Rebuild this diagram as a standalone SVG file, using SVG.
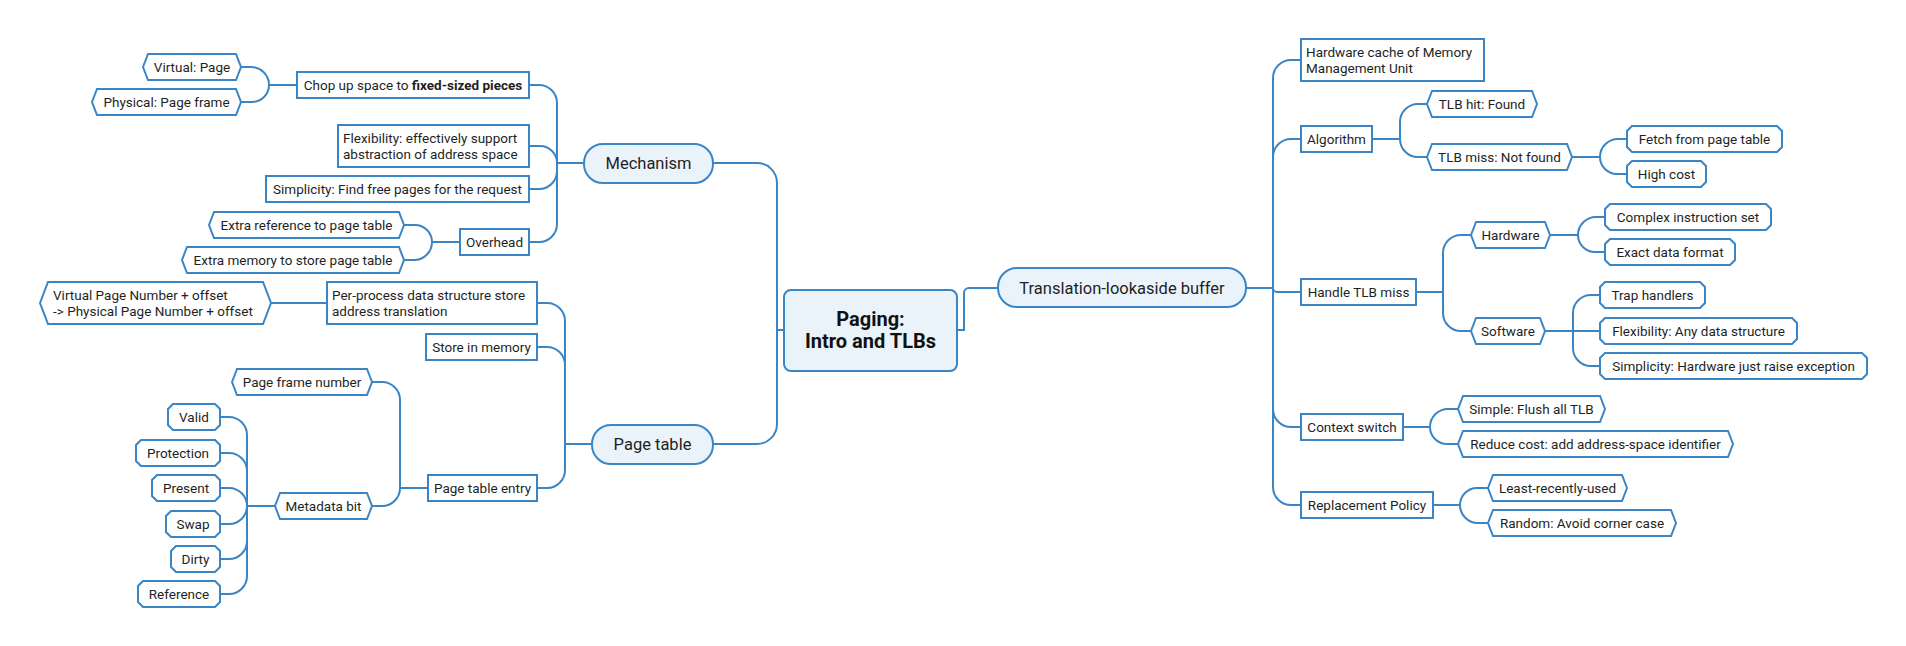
<svg xmlns="http://www.w3.org/2000/svg" width="1906" height="646" viewBox="0 0 1906 646">
<style>
.c{fill:none;stroke:#3A85C5;stroke-width:2}
.s{fill:#fff;stroke:#3A85C5;stroke-width:2}
.p{fill:#EBF3FA;stroke:#3A85C5;stroke-width:2}
text{font-family:Roboto,"Liberation Sans",sans-serif;font-size:13.5px;fill:#1f1f1f}
.m{text-anchor:middle}
.l1{font-size:16.5px}
.rt{font-size:20px;font-weight:bold;fill:#111}
</style>
<rect width="1906" height="646" fill="#fff"/>
<g id="connectors" class="c">
<path d="M784 330H777M713 163H757A20 20 0 0 1 777 183V330M713 444H757A20 20 0 0 0 777 424V330"/>
<path d="M957 330H964V293A5 5 0 0 1 969 288H998"/>
<path d="M557 163H584M529 85H539A18 18 0 0 1 557 103V163M529 146H540A17 17 0 0 1 557 163M529 189H539A18 18 0 0 0 557 171V163M529 242H539A18 18 0 0 0 557 224V163"/>
<path d="M269 85H297M241 67H251A18 18 0 0 1 269 85M241 102H252A17 17 0 0 0 269 85"/>
<path d="M432 242H460M404 225H415A17 17 0 0 1 432 242M404 260H414A18 18 0 0 0 432 242"/>
<path d="M565 444H592M537 303H547A18 18 0 0 1 565 321V444M537 347H547A18 18 0 0 1 565 365V444M537 488H547A18 18 0 0 0 565 470V444"/>
<path d="M271 303H327"/>
<path d="M400 488H428M372 382H382A18 18 0 0 1 400 400V488M372 506H382A18 18 0 0 0 400 488"/>
<path d="M247 506H275M220 417H229A18 18 0 0 1 247 435V506M220 453H229A18 18 0 0 1 247 471V506M220 488H229A18 18 0 0 1 247 506M220 524H229A18 18 0 0 0 247 506M220 559H229A18 18 0 0 0 247 541V506M220 594H229A18 18 0 0 0 247 576V506"/>
<path d="M1246 288H1273M1301 60H1291A18 18 0 0 0 1273 78V288M1301 139H1291A18 18 0 0 0 1273 157V288M1301 292H1277A4 4 0 0 1 1273 288M1301 427H1291A18 18 0 0 1 1273 409V288M1301 505H1291A18 18 0 0 1 1273 487V288"/>
<path d="M1372 139H1400M1427 104H1418A18 18 0 0 0 1400 122V139M1427 157H1418A18 18 0 0 1 1400 139"/>
<path d="M1572 157H1600M1627 139H1618A18 18 0 0 0 1600 157M1627 174H1617A17 17 0 0 1 1600 157"/>
<path d="M1416 292H1443M1471 235H1461A18 18 0 0 0 1443 253V292M1471 331H1461A18 18 0 0 1 1443 313V292"/>
<path d="M1550 235H1578M1605 217H1596A18 18 0 0 0 1578 235M1605 252H1595A17 17 0 0 1 1578 235"/>
<path d="M1545 331H1573M1600 295H1591A18 18 0 0 0 1573 313V331M1600 331H1573M1600 366H1591A18 18 0 0 1 1573 348V331"/>
<path d="M1403 427H1430M1458 409H1448A18 18 0 0 0 1430 427M1458 444H1447A17 17 0 0 1 1430 427"/>
<path d="M1433 505H1460M1488 488H1477A17 17 0 0 0 1460 505M1488 523H1478A18 18 0 0 1 1460 505"/>
</g>
<g id="root"><rect class="p" x="784" y="290" width="173" height="81" rx="7"/><text class="m rt" x="870.5" y="326">Paging:</text><text class="m rt" x="870.5" y="348">Intro and TLBs</text></g>
<g id="mechanism"><rect class="p" x="584" y="144" width="129" height="39" rx="19"/><text class="m l1" x="648.5" y="169">Mechanism</text></g>
<g id="pagetable"><rect class="p" x="592" y="425" width="121" height="39" rx="19"/><text class="m l1" x="652.5" y="450">Page table</text></g>
<g id="tlb"><rect class="p" x="998" y="268" width="248" height="39" rx="19"/><text class="m l1" x="1122" y="294">Translation-lookaside buffer</text></g>
<g id="chop"><rect class="s" x="297" y="72" width="232" height="26"/><text class="m" x="413" y="90">Chop up space to <tspan font-weight="bold">fixed-sized pieces</tspan></text></g>
<g id="virtual"><polygon class="s" points="143,67 148,54 236,54 241,67 236,80 148,80"/><text class="m" x="192" y="72">Virtual: Page</text></g>
<g id="physical"><polygon class="s" points="92,102 97,89 236,89 241,102 236,115 97,115"/><text class="m" x="166.5" y="107">Physical: Page frame</text></g>
<g id="flex"><rect class="s" x="338" y="125" width="191" height="42"/><text x="343" y="143">Flexibility: effectively support</text><text x="343" y="159">abstraction of address space</text></g>
<g id="simpl"><rect class="s" x="266" y="176" width="263" height="26"/><text class="m" x="397.5" y="194">Simplicity: Find free pages for the request</text></g>
<g id="overhead"><rect class="s" x="460" y="229" width="69" height="26"/><text class="m" x="494.5" y="247">Overhead</text></g>
<g id="extraref"><polygon class="s" points="209,225 214,212 399,212 404,225 399,238 214,238"/><text class="m" x="306.5" y="230">Extra reference to page table</text></g>
<g id="extramem"><polygon class="s" points="182,260 187,247 399,247 404,260 399,273 187,273"/><text class="m" x="293" y="265">Extra memory to store page table</text></g>
<g id="perproc"><rect class="s" x="327" y="282" width="210" height="42"/><text x="332" y="300">Per-process data structure store</text><text x="332" y="316">address translation</text></g>
<g id="vpn"><polygon class="s" points="40,303 48,282 263,282 271,303 263,324 48,324"/><text x="53" y="300">Virtual Page Number + offset</text><text x="53" y="316">-&gt; Physical Page Number + offset</text></g>
<g id="store"><rect class="s" x="426" y="334" width="111" height="26"/><text class="m" x="481.5" y="352">Store in memory</text></g>
<g id="pte"><rect class="s" x="428" y="475" width="109" height="26"/><text class="m" x="482.5" y="493">Page table entry</text></g>
<g id="pfn"><polygon class="s" points="232,382 237,369 367,369 372,382 367,395 237,395"/><text class="m" x="302" y="387">Page frame number</text></g>
<g id="meta"><polygon class="s" points="275,506 280,493 367,493 372,506 367,519 280,519"/><text class="m" x="323.5" y="511">Metadata bit</text></g>
<g id="valid"><polygon class="s" points="173,404 215,404 220,409 220,425 215,430 173,430 168,425 168,409"/><text class="m" x="194" y="422">Valid</text></g>
<g id="protection"><polygon class="s" points="141,440 215,440 220,445 220,461 215,466 141,466 136,461 136,445"/><text class="m" x="178" y="458">Protection</text></g>
<g id="present"><polygon class="s" points="157,475 215,475 220,480 220,496 215,501 157,501 152,496 152,480"/><text class="m" x="186" y="493">Present</text></g>
<g id="swap"><polygon class="s" points="171,511 215,511 220,516 220,532 215,537 171,537 166,532 166,516"/><text class="m" x="193" y="529">Swap</text></g>
<g id="dirty"><polygon class="s" points="176,546 215,546 220,551 220,567 215,572 176,572 171,567 171,551"/><text class="m" x="195.5" y="564">Dirty</text></g>
<g id="reference"><polygon class="s" points="143,581 215,581 220,586 220,602 215,607 143,607 138,602 138,586"/><text class="m" x="179" y="599">Reference</text></g>
<g id="hwcache"><rect class="s" x="1301" y="39" width="183" height="42"/><text x="1306" y="57">Hardware cache of Memory</text><text x="1306" y="73">Management Unit</text></g>
<g id="algo"><rect class="s" x="1301" y="126" width="71" height="26"/><text class="m" x="1336.5" y="144">Algorithm</text></g>
<g id="hit"><polygon class="s" points="1427,104 1432,91 1532,91 1537,104 1532,117 1432,117"/><text class="m" x="1482" y="109">TLB hit: Found</text></g>
<g id="miss"><polygon class="s" points="1427,157 1432,144 1567,144 1572,157 1567,170 1432,170"/><text class="m" x="1499.5" y="162">TLB miss: Not found</text></g>
<g id="fetch"><polygon class="s" points="1632,126 1777,126 1782,131 1782,147 1777,152 1632,152 1627,147 1627,131"/><text class="m" x="1704.5" y="144">Fetch from page table</text></g>
<g id="high"><polygon class="s" points="1632,161 1701,161 1706,166 1706,182 1701,187 1632,187 1627,182 1627,166"/><text class="m" x="1666.5" y="179">High cost</text></g>
<g id="handle"><rect class="s" x="1301" y="279" width="115" height="26"/><text class="m" x="1358.5" y="297">Handle TLB miss</text></g>
<g id="hw"><polygon class="s" points="1471,235 1476,222 1545,222 1550,235 1545,248 1476,248"/><text class="m" x="1510.5" y="240">Hardware</text></g>
<g id="sw"><polygon class="s" points="1471,331 1476,318 1540,318 1545,331 1540,344 1476,344"/><text class="m" x="1508" y="336">Software</text></g>
<g id="complex"><polygon class="s" points="1610,204 1766,204 1771,209 1771,225 1766,230 1610,230 1605,225 1605,209"/><text class="m" x="1688" y="222">Complex instruction set</text></g>
<g id="exact"><polygon class="s" points="1610,239 1730,239 1735,244 1735,260 1730,265 1610,265 1605,260 1605,244"/><text class="m" x="1670" y="257">Exact data format</text></g>
<g id="trap"><polygon class="s" points="1605,282 1700,282 1705,287 1705,303 1700,308 1605,308 1600,303 1600,287"/><text class="m" x="1652.5" y="300">Trap handlers</text></g>
<g id="flexany"><polygon class="s" points="1605,318 1792,318 1797,323 1797,339 1792,344 1605,344 1600,339 1600,323"/><text class="m" x="1698.5" y="336">Flexibility: Any data structure</text></g>
<g id="simphw"><polygon class="s" points="1605,353 1862,353 1867,358 1867,374 1862,379 1605,379 1600,374 1600,358"/><text class="m" x="1733.5" y="371">Simplicity: Hardware just raise exception</text></g>
<g id="ctx"><rect class="s" x="1301" y="414" width="102" height="26"/><text class="m" x="1352" y="432">Context switch</text></g>
<g id="simple"><polygon class="s" points="1458,409 1463,396 1600,396 1605,409 1600,422 1463,422"/><text class="m" x="1531.5" y="414">Simple: Flush all TLB</text></g>
<g id="reduce"><polygon class="s" points="1458,444 1463,431 1728,431 1733,444 1728,457 1463,457"/><text class="m" x="1595.5" y="449">Reduce cost: add address-space identifier</text></g>
<g id="repl"><rect class="s" x="1301" y="492" width="132" height="26"/><text class="m" x="1367" y="510">Replacement Policy</text></g>
<g id="lru"><polygon class="s" points="1488,488 1493,475 1622,475 1627,488 1622,501 1493,501"/><text class="m" x="1557.5" y="493">Least-recently-used</text></g>
<g id="random"><polygon class="s" points="1488,523 1493,510 1671,510 1676,523 1671,536 1493,536"/><text class="m" x="1582" y="528">Random: Avoid corner case</text></g>
</svg>
